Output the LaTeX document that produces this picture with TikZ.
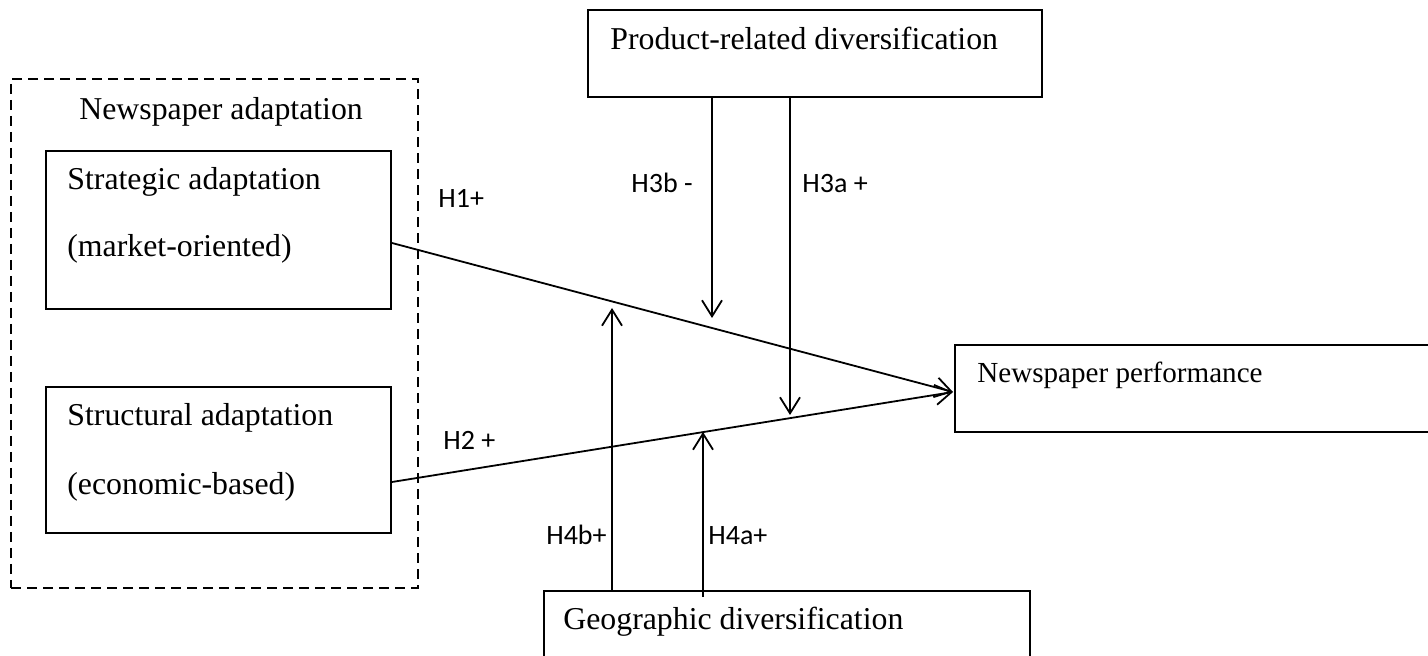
\documentclass[tikz,border=0pt]{standalone}
\usepackage{fontspec}
\setmainfont{Liberation Serif}
\newfontfamily\labfont{Carlito}
\usetikzlibrary{arrows.meta}

\tikzset{
  boxnode/.style={draw=black, line width=1pt, rectangle, inner sep=0pt},
  groupbox/.style={draw=black, line width=0.75pt, dash pattern=on 5pt off 3pt, rectangle, inner sep=0pt},
  boxtext/.style={anchor=base west, inner sep=0pt, font=\fontsize{15.9pt}{19pt}\selectfont},
  hyplabel/.style={inner sep=0pt, font=\labfont\fontsize{14pt}{17pt}\selectfont},
  link/.style={line width=0.9pt, -{Straight Barb[length=8pt, width=10pt, line width=0.9pt]}}
}

\begin{document}
\begin{tikzpicture}[x=0.5pt, y=-0.5pt]
  \path[use as bounding box] (0,0) rectangle (1428,656);
  \clip (0,0) rectangle (1428,656);

  % group frame and the two adaptation boxes
  \node[groupbox, minimum width=203.5pt, minimum height=254.5pt] (group) at (214.5,333.5) {};
  \node[boxnode, minimum width=172.5pt, minimum height=79pt] (strat) at (218.5,230) {};
  \node[boxnode, minimum width=172.5pt, minimum height=73pt] (struct) at (218.5,460) {};

  % moderators and outcome
  \node[boxnode, minimum width=227pt, minimum height=43.5pt] (prod) at (815,53.5) {};
  \node[boxnode, minimum width=242.5pt, minimum height=43.5pt] (perf) at (1197.5,388.5) {};
  \node[boxnode, minimum width=243pt, minimum height=44.5pt] (geo) at (787,635.5) {};

  % box texts
  \node[boxtext] (tgroup) at (79,120) {Newspaper adaptation};
  \node[boxtext] (tstrat1) at (67,190) {Strategic adaptation};
  \node[boxtext] (tstrat2) at (67,257) {(market-oriented)};
  \node[boxtext] (tstruct1) at (67,426) {Structural adaptation};
  \node[boxtext] (tstruct2) at (67,495) {(economic-based)};
  \node[boxtext] (tprod) at (610,50) {Product-related diversification};
  \node[boxtext, font=\fontsize{14.55pt}{17pt}\selectfont] (tperf) at (977,383) {Newspaper performance};
  \node[boxtext] (tgeo) at (563,630) {Geographic diversification};

  % connector end points
  \coordinate (h1start) at (391,243);
  \coordinate (h2start) at (391,482);
  \coordinate (perfin) at (953,392);
  \coordinate (t3b) at (712,318);
  \coordinate (t3a) at (790,415);
  \coordinate (t4b) at (612,308);
  \coordinate (t4a) at (703,432);
  \coordinate (s4a) at (703,597);

  % direct effects
  \draw[link] (strat.east |- h1start) -- (perfin);
  \draw[link] (struct.east |- h2start) -- (perfin);

  % moderating effects
  \draw[link] (prod.south -| t3b) -- (t3b);
  \draw[link] (prod.south -| t3a) -- (t3a);
  \draw[link] (geo.north -| t4b) -- (t4b);
  \draw[link] (s4a) -- (t4a);

  % hypothesis labels
  \node[hyplabel, anchor=base west] (lh1) at (438,208) {H1+};
  \node[hyplabel, anchor=base west] (lh2) at (443,450) {H2 +};
  \node[hyplabel, anchor=base east] (lh3b) at (693,193) {H3b -};
  \node[hyplabel, anchor=base west] (lh3a) at (802,193) {H3a +};
  \node[hyplabel, anchor=base east] (lh4b) at (607,545) {H4b+};
  \node[hyplabel, anchor=base west] (lh4a) at (708,545) {H4a+};
\end{tikzpicture}
\end{document}
